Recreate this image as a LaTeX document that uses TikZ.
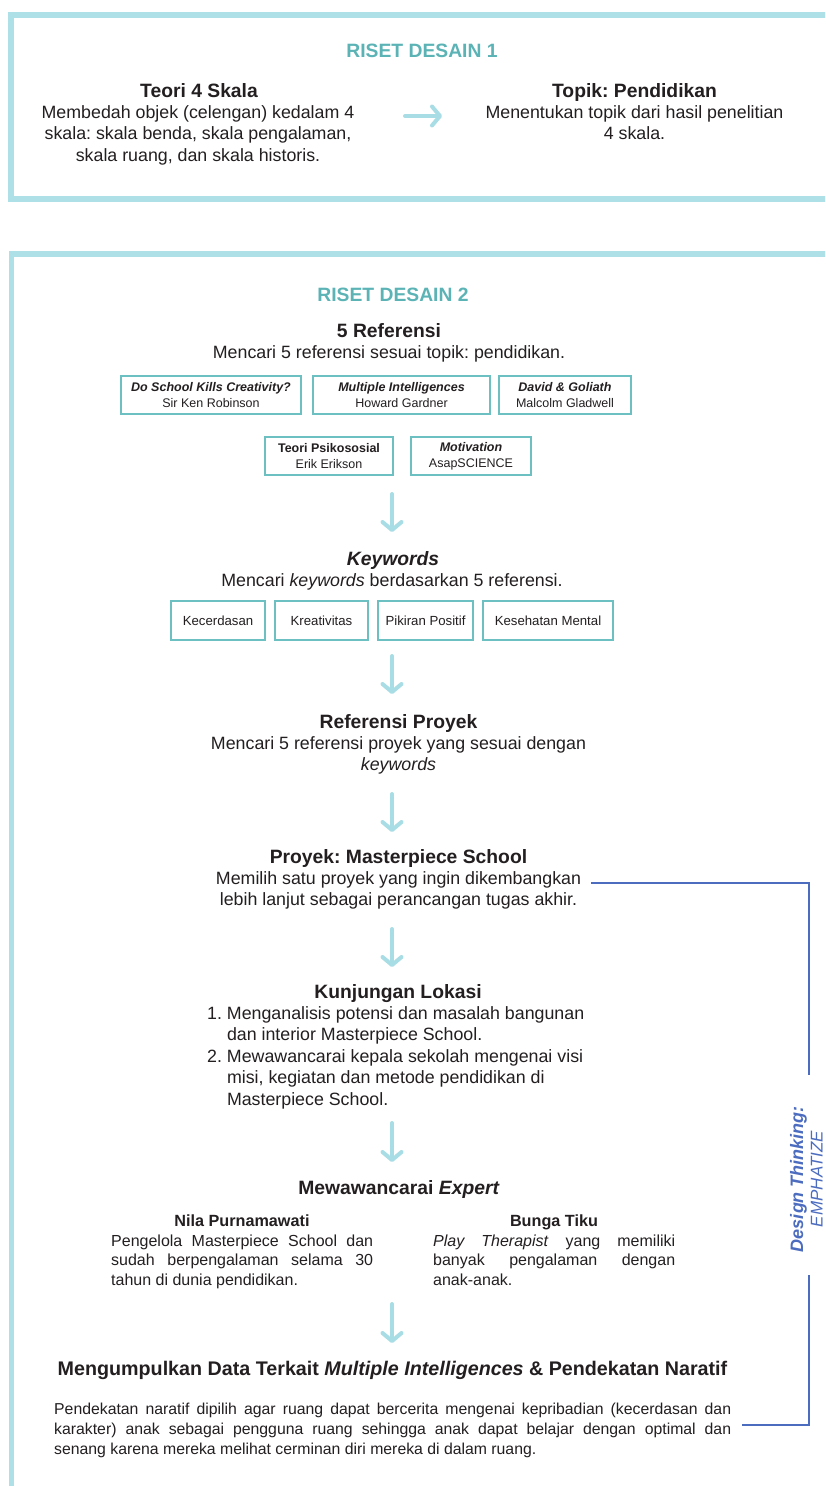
\documentclass[tikz,border=0pt]{standalone}
\usepackage{fontspec}
\setmainfont{Liberation Sans}
\usetikzlibrary{arrows.meta}
\definecolor{framecol}{HTML}{AEE0E7}
\definecolor{titlecol}{HTML}{5BB3B5}
\definecolor{boxcol}{HTML}{6CC0C2}
\definecolor{arrowcol}{HTML}{A9DDE5}
\definecolor{dtcol}{HTML}{4C6CC0}
\definecolor{ink}{HTML}{231F20}
\begin{document}
\frenchspacing
\begin{tikzpicture}[x=1pt,y=-1pt,
  txt/.style={inner sep=0pt, anchor=base, text=ink},
  head/.style={txt, font=\fontsize{19.3}{23}\selectfont\bfseries},
  body/.style={txt, font=\fontsize{17.8}{21.5}\selectfont},
  title/.style={inner sep=0pt, anchor=base, text=titlecol, font=\fontsize{19.3}{23}\selectfont\bfseries},
  refbox/.style={draw=boxcol, line width=1.6pt, minimum height=38pt, inner sep=0pt, align=center, text=ink, font=\fontsize{12.5}{16}\selectfont},
  kwbox/.style={draw=boxcol, line width=1.6pt, minimum height=39pt, inner sep=0pt, text=ink, font=\fontsize{13.2}{16}\selectfont},
  flow/.style={draw=arrowcol, line width=4pt, line cap=round, -{Straight Barb[length=8pt,width=19pt,round]}},
  frameline/.style={draw=framecol, line width=5.5pt},
  dtline/.style={draw=dtcol, line width=1.5pt},
]
\useasboundingbox (0,0) rectangle (825,1486);
\clip (0,0) rectangle (825,1486);
\fill[white] (0,0) rectangle (825,1486);

% ---------- frame 1 ----------
\draw[frameline] (880,15) -- (11,15) -- (11,199) -- (880,199);
\node[title] (t1) at (422,57) {RISET DESAIN 1};
\node[head] (h1) at (199,97) {Teori 4 Skala};
\node[body] (b1) at (198,118) {\parbox[t]{340pt}{\centering Membedah objek (celengan) kedalam 4\\ skala: skala benda, skala pengalaman,\\ skala ruang, dan skala historis.}};
\node[head] (h2) at (634.5,97) {Topik: Pendidikan};
\node[body] (b2) at (634.5,118) {\parbox[t]{340pt}{\centering Menentukan topik dari hasil penelitian\\ 4 skala.}};
\coordinate (a0s) at (405,116);
\coordinate (a0e) at (442,116);
\draw[flow] (a0s) -- (a0e);

% ---------- frame 2 ----------
\draw[frameline] (880,254) -- (11.5,254) -- (11.5,1520);
\node[title] (t2) at (393,301) {RISET DESAIN 2};

\node[head] (h3) at (389,337) {5 Referensi};
\node[body] (b3) at (389,358) {Mencari 5 referensi sesuai topik: pendidikan.};

\node[refbox, minimum width=180pt] (r1) at (211,395) {{\bfseries\itshape Do School Kills Creativity?}\\Sir Ken Robinson};
\node[refbox, minimum width=177pt] (r2) at (401.5,395) {{\bfseries\itshape Multiple Intelligences}\\Howard Gardner};
\node[refbox, minimum width=132pt] (r3) at (565,395) {{\bfseries\itshape David \& Goliath}\\Malcolm Gladwell};
\node[refbox, minimum width=128pt] (r4) at (329,456) {{\bfseries Teori Psikososial}\\Erik Erikson};
\node[refbox, minimum width=120pt] (r5) at (471,456) {{\bfseries\itshape Motivation}\\AsapSCIENCE};

\coordinate (a1s) at (392,494);
\coordinate (a1e) at (392,532);
\draw[flow] (a1s) -- (a1e);

\node[head, font=\fontsize{19.3}{23}\selectfont\bfseries\itshape] (h4) at (393,565) {Keywords};
\node[body] (b4) at (392,586) {Mencari \textit{keywords} berdasarkan 5 referensi.};

\node[kwbox, minimum width=94pt] (k1) at (218,620.5) {Kecerdasan};
\node[kwbox, minimum width=93pt] (k2) at (321.5,620.5) {Kreativitas};
\node[kwbox, minimum width=95pt] (k3) at (425.5,620.5) {Pikiran Positif};
\node[kwbox, minimum width=130pt] (k4) at (548,620.5) {Kesehatan Mental};

\coordinate (a2s) at (392,656);
\coordinate (a2e) at (392,694);
\draw[flow] (a2s) -- (a2e);

\node[head] (h5) at (398.5,728) {Referensi Proyek};
\node[body] (b5) at (398.5,749) {\parbox[t]{420pt}{\centering Mencari 5 referensi proyek yang sesuai dengan\\ \textit{keywords}}};

\coordinate (a3s) at (392,794);
\coordinate (a3e) at (392,832);
\draw[flow] (a3s) -- (a3e);

\node[head] (h6) at (398.5,863) {Proyek: Masterpiece School};
\node[body] (b6) at (398.5,884) {\parbox[t]{420pt}{\centering Memilih satu proyek yang ingin dikembangkan\\ lebih lanjut sebagai perancangan tugas akhir.}};

\coordinate (a4s) at (392,929);
\coordinate (a4e) at (392,967);
\draw[flow] (a4s) -- (a4e);

\node[head] (h7) at (398,998) {Kunjungan Lokasi};
\node[body, anchor=base west] (b7) at (207,1019) {\parbox[t]{420pt}{\raggedright
\hangindent=19.8pt\hangafter=1 1.\ Menganalisis potensi dan masalah bangunan\newline dan interior Masterpiece School.\par
\hangindent=19.8pt\hangafter=1 2.\ Mewawancarai kepala sekolah mengenai visi\newline misi, kegiatan dan metode pendidikan di\newline Masterpiece School.}};

\coordinate (a5s) at (392,1123);
\coordinate (a5e) at (392,1162);
\draw[flow] (a5s) -- (a5e);

\node[head] (h8) at (399,1194) {Mewawancarai \textit{Expert}};
\node[txt, font=\fontsize{16.2}{19.5}\selectfont\bfseries] (e1h) at (242,1226) {Nila Purnamawati};
\node[txt, anchor=base west, font=\fontsize{16}{19.6}\selectfont] (e1) at (111,1246) {\parbox[t]{262pt}{\sloppy Pengelola Masterpiece School dan\linebreak sudah berpengalaman selama 30\linebreak tahun di dunia pendidikan.}};
\node[txt, font=\fontsize{16.2}{19.5}\selectfont\bfseries] (e2h) at (554,1226) {Bunga Tiku};
\node[txt, anchor=base west, font=\fontsize{16}{19.6}\selectfont] (e2) at (433,1246) {\parbox[t]{242pt}{\sloppy \textit{Play Therapist} yang memiliki\linebreak banyak pengalaman dengan\linebreak anak-anak.}};

\coordinate (a6s) at (392,1304);
\coordinate (a6e) at (392,1343);
\draw[flow] (a6s) -- (a6e);

\node[txt, font=\fontsize{19.7}{23}\selectfont\bfseries] (h9) at (392.5,1375) {Mengumpulkan Data Terkait \textit{Multiple Intelligences} \& Pendekatan Naratif};
\node[txt, anchor=base west, font=\fontsize{15.8}{20.3}\selectfont] (p9) at (54,1414) {\parbox[t]{677pt}{\sloppy Pendekatan naratif dipilih agar ruang dapat bercerita mengenai kepribadian (kecerdasan dan\linebreak karakter) anak sebagai pengguna ruang sehingga anak dapat belajar dengan optimal dan\linebreak senang karena mereka melihat cerminan diri mereka di dalam ruang.}};

% ---------- design thinking bracket ----------
\coordinate (dA) at (591,883);
\coordinate (dB) at (809,883);
\coordinate (dC) at (809,1075);
\coordinate (dD) at (809,1275);
\coordinate (dE) at (809,1425);
\coordinate (dF) at (742,1425);
\draw[dtline] (dA) -- (dB) -- (dC);
\draw[dtline] (dD) -- (dE) -- (dF);
\node[inner sep=0pt, anchor=base, rotate=90, text=dtcol, font=\fontsize{18}{22}\selectfont\bfseries\itshape] (dt1) at (803,1179) {Design Thinking:};
\node[inner sep=0pt, anchor=base, rotate=90, text=dtcol, font=\fontsize{17}{21}\selectfont\itshape] (dt2) at (822.5,1179) {EMPHATIZE};
\end{tikzpicture}
\end{document}
